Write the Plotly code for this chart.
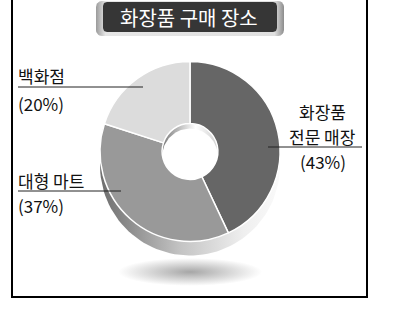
import numpy as np
import plotly.graph_objects as go

# ---- data ----
labels = ["화장품 전문 매장", "대형 마트", "백화점"]
values = [43, 37, 20]
colors = ["#666666", "#999999", "#dcdcdc"]
title_text = "화장품 구매 장소"

W, H = 405, 335
FONT = "Noto Sans CJK KR"

# pie geometry (pixels)
cx, cy, R = 190, 151.5, 90
depth = 14
hole_frac = 0.31
rh = R * hole_frac

fig = go.Figure()

def circle(x0, y0, rx, ry, n=120):
    t = np.linspace(0, 2 * np.pi, n)
    return x0 + rx * np.cos(t), y0 + ry * np.sin(t)

def rrect(x0, y0, x1, y1, r, n=8):
    xs, ys = [], []
    for (ccx, ccy, a0) in [(x1 - r, y0 + r, -90), (x1 - r, y1 - r, 0), (x0 + r, y1 - r, 90), (x0 + r, y0 + r, 180)]:
        for a in np.linspace(a0, a0 + 90, n):
            xs.append(ccx + r * np.cos(np.radians(a)))
            ys.append(ccy + r * np.sin(np.radians(a)))
    xs.append(xs[0]); ys.append(ys[0])
    return xs, ys

# shadow
sx, sy = circle(cx, 272, 72, 14)
fig.add_trace(go.Scatter(x=sx, y=sy, mode="lines", fill="toself", line=dict(width=0),
                         fillgradient=dict(type="radial", colorscale=[[0, "#a6a6a6"], [1, "#ffffff"]]),
                         hoverinfo="skip", showlegend=False))
# extrusion body
ex, ey = circle(cx, cy + depth, R, R)
fig.add_trace(go.Scatter(x=ex, y=ey, mode="lines", fill="toself", line=dict(width=0),
                         fillgradient=dict(type="horizontal",
                                           colorscale=[[0, "#6e6e6e"], [0.45, "#c4c4c4"], [0.8, "#efefef"], [1, "#fafafa"]]),
                         hoverinfo="skip", showlegend=False))
# hole wall
hx, hy = circle(cx, cy - 2, rh, rh)
fig.add_trace(go.Scatter(x=hx, y=hy, mode="lines", fill="toself", line=dict(width=0),
                         fillgradient=dict(type="horizontal",
                                           colorscale=[[0, "#7a7a7a"], [0.6, "#ffffff"], [1, "#cfcfcf"]]),
                         hoverinfo="skip", showlegend=False))
bx, by = circle(cx, cy + 5, rh, rh)
fig.add_trace(go.Scatter(x=bx, y=by, mode="lines", fill="toself", line=dict(width=0),
                         fillcolor="#ffffff", hoverinfo="skip", showlegend=False))

# title box
ox, oy = rrect(96, 1, 284, 36, 6)
fig.add_trace(go.Scatter(x=ox, y=oy, mode="lines", fill="toself", line=dict(width=0),
                         fillgradient=dict(type="horizontal",
                                           colorscale=[[0, "#9a9a9a"], [0.05, "#e6e6e6"], [0.95, "#e0e0e0"], [1, "#8c8c8c"]]),
                         hoverinfo="skip", showlegend=False))
ix, iy = rrect(103, 2, 277, 32, 4)
fig.add_trace(go.Scatter(x=ix, y=iy, mode="lines", fill="toself", line=dict(width=0),
                         fillcolor="#363636", hoverinfo="skip", showlegend=False))

# pie (top face)
fig.add_trace(go.Pie(
    labels=labels, values=values, sort=False, direction="clockwise", rotation=0,
    hole=hole_frac, marker=dict(colors=colors, line=dict(color="#ffffff", width=1.5)),
    textinfo="none", hoverinfo="skip", showlegend=False,
    domain=dict(x=[(cx - R) / W, (cx + R) / W], y=[(H - cy - R) / H, (H - cy + R) / H]),
))

# leader lines + dots
leaders = [((18, 87), (143, 87)), ((18, 191), (121, 191)), ((268, 147), (362, 147))]
dots = [(143, 87), (121, 191), (268, 147)]
for (x0, y0), (x1, y1) in leaders:
    fig.add_shape(type="line", x0=x0, y0=y0, x1=x1, y1=y1, xref="x", yref="y",
                  line=dict(color="#222222", width=1))
fig.add_trace(go.Scatter(x=[d[0] for d in dots], y=[d[1] for d in dots], mode="markers",
                         marker=dict(color="#000000", size=5), hoverinfo="skip", showlegend=False))

# frame
fig.add_shape(type="path", path=f"M 12 -5 L 12 297 L 367 297 L 367 -5", xref="x", yref="y",
              line=dict(color="#000000", width=2))

ann = []
def txt(x, y, s, anchor="left", size=17, color="#111111"):
    ann.append(dict(x=x, y=y, xref="x", yref="y", text=s, showarrow=False, xanchor=anchor,
                    yanchor="middle", font=dict(family=FONT, size=size, color=color)))

txt(189, 17, title_text, anchor="center", size=20, color="#ffffff")
txt(16, 75, labels[2])
txt(16, 103, f"({values[2]}%)")
txt(16, 180, labels[1])
txt(16, 205, f"({values[1]}%)")
txt(322, 111, "화장품", anchor="center")
txt(322, 136, "전문 매장", anchor="center")
txt(323, 161, f"({values[0]}%)", anchor="center")

fig.update_layout(
    width=W, height=H, margin=dict(l=0, r=0, t=0, b=0),
    paper_bgcolor="#ffffff", plot_bgcolor="#ffffff",
    xaxis=dict(range=[0, W], visible=False, domain=[0, 1], fixedrange=True),
    yaxis=dict(range=[H, 0], visible=False, domain=[0, 1], fixedrange=True),
    annotations=ann, showlegend=False,
)
fig.write_html("out.html")
